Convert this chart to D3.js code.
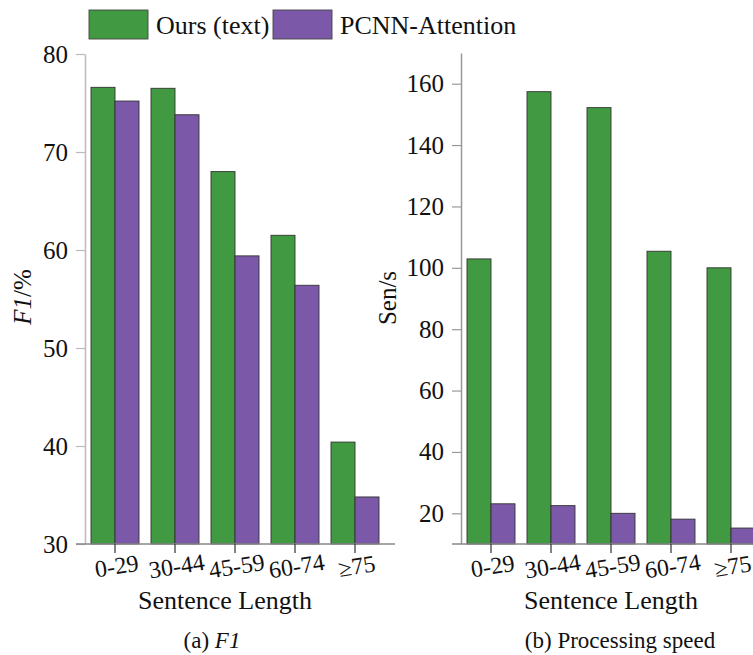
<!DOCTYPE html>
<html>
<head>
<meta charset="utf-8">
<script src="https://cdn.jsdelivr.net/npm/d3@7"></script>
<style>
  html, body { margin: 0; padding: 0; background: #fff; overflow: hidden; }
  svg { display: block; }
</style>
</head>
<body>
<svg id="chart" width="753" height="655"></svg>
<script>
const categories = ["0-29", "30-44", "45-59", "60-74", "\u226575"];
const seriesNames = ["Ours (text)", "PCNN-Attention"];
const f1Ours = [76.6, 76.5, 68.0, 61.5, 40.4];
const f1Pcnn = [75.2, 73.8, 59.4, 56.4, 34.8];
const speedOurs = [102.9, 157.4, 152.2, 105.4, 100.0];
const speedPcnn = [23.1, 22.5, 20.0, 18.1, 15.2];
const f1Ticks = [30, 40, 50, 60, 70, 80];
const speedTicks = [20, 40, 60, 80, 100, 120, 140, 160];
const colors = ["#419a42", "#7b59a8"];
const SERIF = '"Liberation Serif"';

const svg = d3.select("#chart");

function panel(opts) {
  const g = svg.append("g");
  const x = d3.scaleBand().domain(categories).range(opts.xRange).paddingInner(0.2).paddingOuter(0.1);
  const xs = d3.scaleBand().domain([0, 1]).range([0, x.bandwidth()]);
  const y = d3.scaleLinear().domain(opts.yDomain).range([544, opts.yTop]);

  const data = categories.map((c, i) => ({ c, v: [opts.a[i], opts.b[i]] }));
  const grp = g.selectAll("g.grp").data(data).join("g").attr("transform", d => `translate(${x(d.c)},0)`);
  grp.selectAll("rect").data(d => d.v.map((v, k) => ({ v, k }))).join("rect")
    .attr("x", d => xs(d.k))
    .attr("width", xs.bandwidth())
    .attr("y", d => y(d.v))
    .attr("height", d => y(opts.yDomain[0]) - y(d.v))
    .attr("fill", d => colors[d.k])
    .attr("stroke", "#333")
    .attr("stroke-width", 0.9);

  const ya = g.append("g").attr("transform", `translate(${opts.axisX},0)`)
    .call(d3.axisLeft(y).tickValues(opts.ticks).tickSize(9).tickPadding(8).tickSizeOuter(0));
  ya.attr("font-family", SERIF).attr("font-size", 25);
  ya.select(".domain").attr("stroke", opts.axisColor).attr("stroke-width", 1.5);
  ya.selectAll(".tick line").attr("stroke", opts.axisColor).attr("stroke-width", 1.2);
  ya.selectAll(".tick text").attr("fill", "#111");

  const xa = g.append("g").attr("transform", `translate(0,544)`)
    .call(d3.axisBottom(x).tickSize(9).tickSizeOuter(0).tickFormat(() => ""));
  xa.attr("font-family", SERIF);
  xa.select(".domain").attr("d", `M${opts.axisX - 9},0H${opts.xRange[1] + 10}`).attr("stroke", "#888").attr("stroke-width", 1.5);
  xa.selectAll(".tick line").attr("stroke", "#333").attr("stroke-width", 1.2);
  xa.selectAll(".tick").append("text")
    .attr("transform", "translate(3,30) rotate(-9)")
    .attr("text-anchor", "middle")
    .attr("fill", "#111")
    .style("font-size", "24px")
    .text(d => d);

  g.append("text").attr("x", opts.xTitleX).attr("y", 609).attr("text-anchor", "middle")
    .style("font-size", "26px").text("Sentence Length");
  return g;
}

panel({ xRange: [85, 385], axisX: 85, yDomain: [30, 80], yTop: 54, ticks: f1Ticks,
  a: f1Ours, b: f1Pcnn, axisColor: "#bbb", xTitleX: 225 });
panel({ xRange: [461, 761], axisX: 461, yDomain: [10, 170], yTop: 53, ticks: speedTicks,
  a: speedOurs, b: speedPcnn, axisColor: "#999", xTitleX: 611 });

const yt1 = svg.append("text").attr("transform", "translate(31,297) rotate(-90)").attr("text-anchor", "middle").style("font-size", "25px");
yt1.append("tspan").style("font-style", "italic").text("F1");
yt1.append("tspan").text("/%");
svg.append("text").attr("transform", "translate(396,298) rotate(-90)").attr("text-anchor", "middle").style("font-size", "25px").text("Sen/s");

const c1 = svg.append("text").attr("x", 212).attr("y", 648).attr("text-anchor", "middle").style("font-size", "23px");
c1.append("tspan").text("(a) ");
c1.append("tspan").style("font-style", "italic").text("F1");
svg.append("text").attr("x", 620).attr("y", 648).attr("text-anchor", "middle").style("font-size", "23px").text("(b) Processing speed");

const legX = [89, 273];
const leg = svg.append("g").selectAll("g").data(seriesNames).join("g")
  .attr("transform", (d, i) => `translate(${legX[i]},10)`);
leg.append("rect").attr("width", 59).attr("height", 29).attr("fill", (d, i) => colors[i]).attr("stroke", "#444").attr("stroke-width", 0.9);
leg.append("text").attr("x", 67).attr("y", 24).style("font-size", "26px").text(d => d);

svg.selectAll("text").style("font-family", SERIF).attr("fill", "#111");
</script>
</body>
</html>
